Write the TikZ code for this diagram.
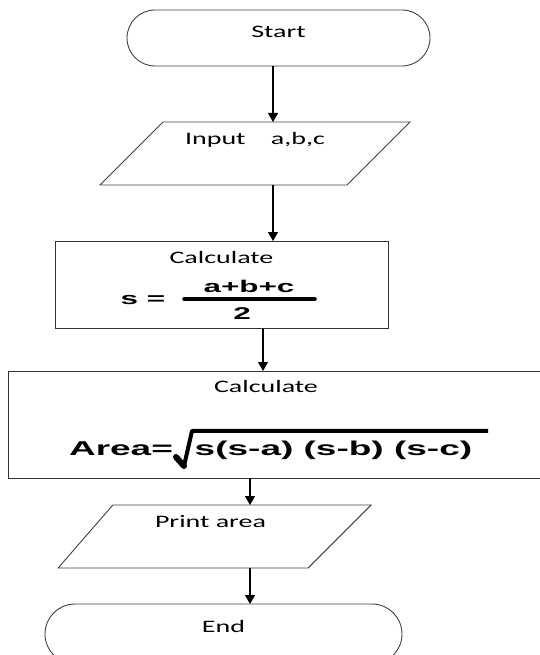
\documentclass[tikz,border=0pt]{standalone}
\usepackage{fontspec}
\setmainfont{Carlito}
\newfontfamily\chartfont[FakeStretch=1.6]{Carlito}
\newfontfamily\boldsans[FakeStretch=1.85]{Liberation Sans}
\usetikzlibrary{positioning,arrows.meta,shapes.geometric,shapes.misc}

\begin{document}
\begin{tikzpicture}[x=1pt, y=1pt,
    terminal/.style={draw=black!75, line width=0.9pt, rounded rectangle, minimum height=56pt, inner sep=0pt, outer sep=0pt, text height=0pt, font=\chartfont\fontsize{17.5}{20}\selectfont, text=black},
    inout/.style={draw=black!75, line width=0.9pt, trapezium, trapezium left angle=45, trapezium right angle=135, trapezium stretches body=true, inner xsep=0pt, inner ysep=22.5pt, outer sep=0pt, text height=0pt, text depth=18pt, font=\chartfont\fontsize{17.5}{20}\selectfont, text=black},
    process/.style={draw=black!80, line width=1pt, rectangle, inner sep=0pt, outer sep=0pt, text height=0pt, font=\chartfont\fontsize{17.5}{20}\selectfont, text=black},
    formula/.style={inner sep=0pt, text=black, font=\boldsans\bfseries\fontsize{17}{20}\selectfont},
    bigformula/.style={formula, font=\boldsans\bfseries\fontsize{20}{24}\selectfont},
    flow/.style={-{Triangle[length=9pt,width=10pt]}, line width=1.3pt},
    node distance=56pt,
  ]
    \useasboundingbox (0,0) rectangle (540,655);

    \node[terminal, minimum width=303pt, text depth=1pt] (start) at (278.5,617) {Start};
    \node[inout, minimum width=310pt, below=of start, xshift=-23.5pt] (input) {Input\ \ \ \ a,b,c};
    \node[process, minimum width=333pt, minimum height=87pt, text depth=42pt, below=of input, xshift=-33.5pt] (calc1) {Calculate};
    \node[process, minimum width=538pt, minimum height=107pt, text depth=64pt, below=43pt of calc1, xshift=55.5pt] (calc2) {Calculate\hspace*{22pt}};
    \node[inout, minimum width=313pt, trapezium left angle=49, trapezium right angle=135, below=27pt of calc2, xshift=-66.5pt] (print) {Print area};
    \node[terminal, minimum width=357pt, minimum height=60pt, text depth=3pt, below=36pt of print, xshift=13pt] (end) {End};

    % s = (a+b+c)/2
    \node[formula] (sdef) at (143,355) {s =};
    \node[formula] (num) at (249,369) {a+b+c};
    \node[formula] (den) at (242,341.5) {2};
    \draw[line width=3.5pt, line cap=round] (184,356) -- (315,356);

    % Area = sqrt(...)
    \node[bigformula] (area) at (121,206.5) {Area=};
    \node[bigformula] (radicand) at (333.5,205) {s(s-a) (s-b) (s-c)};
    \draw[line width=6pt, line cap=round] (176,198) -- (184,189);
    \draw[line width=4pt, line join=round] (184,189) -- (192,224) -- (488,224);

    % arrows
    \coordinate (laneA) at (273,0);
    \coordinate (laneB) at (263,0);
    \coordinate (laneC) at (250,0);
    \draw[flow] (laneA |- start.south) -- (laneA |- input.north);
    \draw[flow] (laneA |- input.south) -- (laneA |- calc1.north);
    \draw[flow] (laneB |- calc1.south) -- (laneB |- calc2.north);
    \draw[flow] (laneC |- calc2.south) -- (laneC |- print.north);
    \draw[flow] (laneC |- print.south) -- (laneC |- end.north);
\end{tikzpicture}
\end{document}
